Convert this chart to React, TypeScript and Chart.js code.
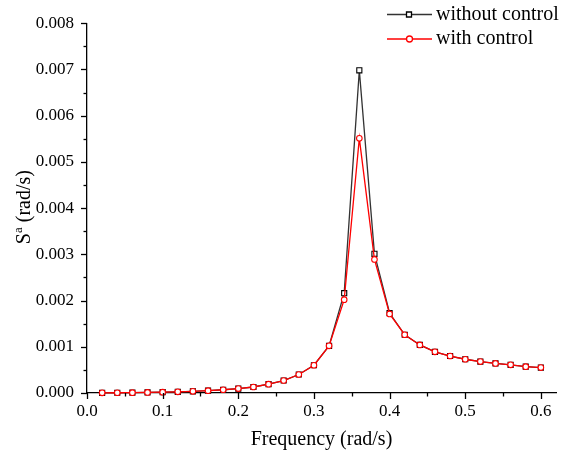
import React, { useEffect, useRef } from "react";
import { Chart, registerables } from "chart.js";

Chart.register(...registerables);

const frequencies = [
  0.02, 0.04, 0.06, 0.08, 0.1, 0.12, 0.14, 0.16, 0.18, 0.2, 0.22, 0.24, 0.26, 0.28, 0.3,
  0.32, 0.34, 0.36, 0.38, 0.4, 0.42, 0.44, 0.46, 0.48, 0.5, 0.52, 0.54, 0.56, 0.58, 0.6,
];
const withoutControl = [
  0.000003, 0.000005, 0.000008, 0.000012, 0.000018, 0.000026, 0.000036, 0.00005, 0.00007, 0.000095,
  0.00013, 0.00019, 0.00027, 0.0004, 0.0006, 0.00102, 0.00216, 0.00698, 0.00301, 0.00173,
  0.00126, 0.00104, 0.00089, 0.0008, 0.00073, 0.00068, 0.00064, 0.00061, 0.00057, 0.00055,
];
const withControl = [
  0.000003, 0.000005, 0.000008, 0.000012, 0.000018, 0.000026, 0.000036, 0.00005, 0.00007, 0.000095,
  0.00013, 0.00019, 0.00027, 0.0004, 0.0006, 0.00102, 0.00202, 0.00551, 0.00289, 0.00171,
  0.00126, 0.00104, 0.00089, 0.0008, 0.00073, 0.00068, 0.00064, 0.00061, 0.00057, 0.00055,
];
const xTickValues = [0, 0.1, 0.2, 0.3, 0.4, 0.5, 0.6];
const yTickValues = [0, 0.001, 0.002, 0.003, 0.004, 0.005, 0.006, 0.007, 0.008];
const seriesNames = ["without control", "with control"];
const xTitle = "Frequency (rad/s)";

const FONT = "'Liberation Serif', 'Times New Roman', serif";
const BLACK = "#333333";
const RED = "#ff0000";

const decorPlugin = {
  id: "decor",
  afterDraw(chart: any) {
    const { ctx, scales, chartArea } = chart;
    const x = scales.x;
    const y = scales.y;
    ctx.save();
    ctx.strokeStyle = "#000";
    ctx.lineWidth = 1.3;
    for (let i = 0; i <= 12; i++) {
      const px = Math.round(x.getPixelForValue(i * 0.05)) + 0.5;
      const len = i % 2 === 0 ? 6 : 3.5;
      ctx.beginPath();
      ctx.moveTo(px, chartArea.bottom);
      ctx.lineTo(px, chartArea.bottom + len);
      ctx.stroke();
    }
    for (let i = 0; i <= 16; i++) {
      const py = Math.round(y.getPixelForValue(i * 0.0005)) + 0.5;
      const len = i % 2 === 0 ? 6 : 3.5;
      ctx.beginPath();
      ctx.moveTo(chartArea.left, py);
      ctx.lineTo(chartArea.left - len, py);
      ctx.stroke();
    }
    ctx.fillStyle = "#000";
    ctx.font = `20px ${FONT}`;
    ctx.textAlign = "center";
    ctx.textBaseline = "middle";
    ctx.fillText(xTitle, (chartArea.left + chartArea.right) / 2, 440);
    // y title with superscript
    ctx.save();
    ctx.translate(25, (chartArea.top + chartArea.bottom) / 2 - 1);
    ctx.rotate(-Math.PI / 2);
    ctx.textAlign = "left";
    ctx.textBaseline = "middle";
    const p1 = "S";
    const p2 = "a";
    const p3 = " (rad/s)";
    ctx.font = `20px ${FONT}`;
    const w1 = ctx.measureText(p1).width;
    const w3 = ctx.measureText(p3).width;
    ctx.font = `13px ${FONT}`;
    const w2 = ctx.measureText(p2).width;
    const total = w1 + w2 + w3;
    let cx = -total / 2;
    ctx.font = `20px ${FONT}`;
    ctx.fillText(p1, cx, 0);
    cx += w1;
    ctx.font = `13px ${FONT}`;
    ctx.fillText(p2, cx, -6);
    cx += w2;
    ctx.font = `20px ${FONT}`;
    ctx.fillText(p3, cx, 0);
    ctx.restore();
    // legend
    const rows = [
      { label: seriesNames[0], color: BLACK, mark: "#000", style: "rect", y: 14.5 },
      { label: seriesNames[1], color: RED, mark: RED, style: "circle", y: 39 },
    ];
    ctx.font = `20px ${FONT}`;
    ctx.textAlign = "left";
    ctx.textBaseline = "middle";
    for (const r of rows) {
      ctx.strokeStyle = r.color;
      ctx.lineWidth = 1.3;
      ctx.beginPath();
      ctx.moveTo(387, r.y);
      ctx.lineTo(432, r.y);
      ctx.stroke();
      ctx.strokeStyle = r.mark;
      ctx.fillStyle = "#fff";
      ctx.beginPath();
      if (r.style === "rect") {
        ctx.rect(406.5, r.y - 2.5, 5, 5);
      } else {
        ctx.arc(409.5, r.y, 3, 0, Math.PI * 2);
      }
      ctx.fill();
      ctx.stroke();
      ctx.fillStyle = "#000";
      ctx.fillText(r.label, 436, r.y);
    }
    ctx.restore();
  },
};

export default function App() {
  const canvasRef = useRef<HTMLCanvasElement | null>(null);

  useEffect(() => {
    if (!canvasRef.current) return;
    const chart = new Chart(canvasRef.current, {
      type: "line",
      data: {
        datasets: [
          {
            label: seriesNames[0],
            data: frequencies.map((f, i) => ({ x: f, y: withoutControl[i] })),
            borderColor: BLACK,
            backgroundColor: "#ffffff",
            borderWidth: 1.3,
            pointStyle: "rect",
            pointRadius: 3.6,
            pointBorderWidth: 1.1,
            pointBorderColor: "#000",
            pointBackgroundColor: "#ffffff",
            tension: 0,
            order: 2,
            clip: false as any,
          },
          {
            label: seriesNames[1],
            data: frequencies.map((f, i) => ({ x: f, y: withControl[i] })),
            borderColor: RED,
            backgroundColor: "#ffffff",
            borderWidth: 1.3,
            pointStyle: "circle",
            pointRadius: 2.8,
            pointBorderWidth: 1.1,
            pointBorderColor: RED,
            pointBackgroundColor: "#ffffff",
            tension: 0,
            order: 1,
            clip: false as any,
          },
        ],
      },
      options: {
        animation: false,
        responsive: true,
        maintainAspectRatio: false,
        layout: { padding: { top: 15, right: 18, left: 0, bottom: 0 } },
        plugins: { legend: { display: false }, tooltip: { enabled: false } },
        scales: {
          x: {
            type: "linear",
            min: 0,
            max: 0.62,
            afterBuildTicks: (s: any) => {
              s.ticks = xTickValues.map((v) => ({ value: v }));
            },
            afterFit: (s: any) => {
              s.height = 64;
            },
            ticks: {
              callback: (v: any) => Number(v).toFixed(1),
              font: { family: FONT, size: 17 },
              color: "#000",
              padding: 8,
              maxRotation: 0,
              autoSkip: false,
            },
            grid: { display: false, drawTicks: false },
            border: { display: true, color: "#000", width: 1.3 },
          },
          y: {
            type: "linear",
            min: 0,
            max: 0.008,
            afterBuildTicks: (s: any) => {
              s.ticks = yTickValues.map((v) => ({ value: v }));
            },
            afterFit: (s: any) => {
              s.width = 87;
            },
            ticks: {
              callback: (v: any) => Number(v).toFixed(3),
              font: { family: FONT, size: 17 },
              color: "#000",
              padding: 13,
              autoSkip: false,
            },
            grid: { display: false, drawTicks: false },
            border: { display: true, color: "#000", width: 1.3 },
          },
        },
      },
      plugins: [decorPlugin],
    });
    return () => chart.destroy();
  }, []);

  return (
    <div style={{ position: "absolute", left: 0, top: 0, width: 574, height: 457, background: "#fff" }}>
      <canvas ref={canvasRef} />
    </div>
  );
}
